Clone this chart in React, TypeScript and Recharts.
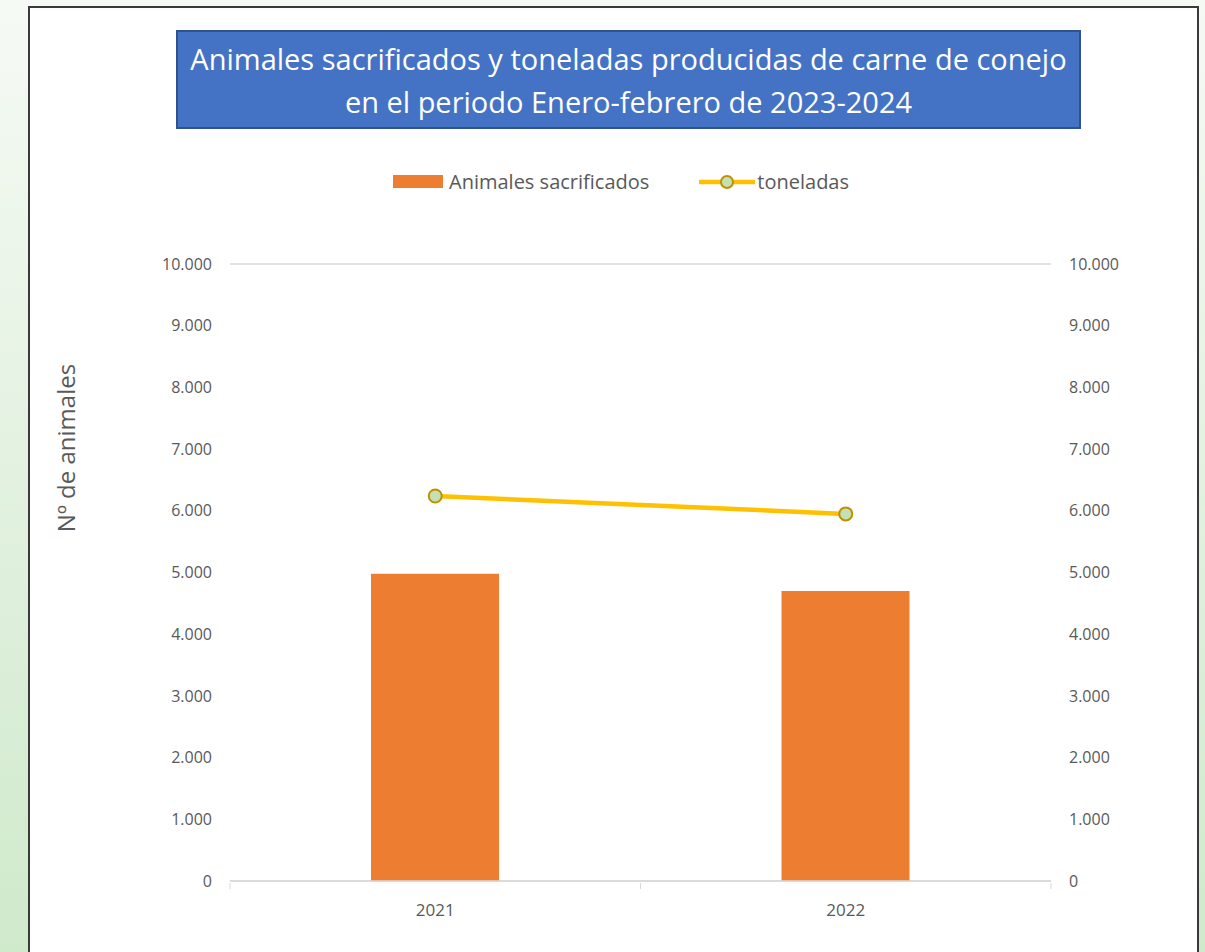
import React from 'react'
import {
  ComposedChart,
  Bar,
  Line,
  XAxis,
  YAxis,
  CartesianGrid,
  Legend,
} from 'recharts'

// values
const years = ['2021', '2022']
const animalesSacrificados = [4980, 4700]
const toneladas = [6240, 5950]
const yTicks = [0, 1000, 2000, 3000, 4000, 5000, 6000, 7000, 8000, 9000, 10000]

const FONT = '"Open Sans", "Liberation Sans", sans-serif'
const TEXT = '#595959'
const GRID = '#d9d9d9'

const chartData = years.map((y, i) => ({
  year: y,
  animales: animalesSacrificados[i],
  toneladas: toneladas[i],
}))

// thousands with a dot, as in the Spanish original
const fmt = (v: number) => String(v).replace(/\B(?=(\d{3})+(?!\d))/g, '.')

const XTick = (props: any) => {
  const { x, y, payload, index, visibleTicksCount } = props
  const half = payload?.offset ?? 0
  return (
    <g>
      <line x1={x - half} x2={x - half} y1={y} y2={y + 6} stroke={GRID} />
      {index === visibleTicksCount - 1 && (
        <line x1={x + half} x2={x + half} y1={y} y2={y + 6} stroke={GRID} />
      )}
      <text x={x} y={y + 21} dy="0.71em" textAnchor="middle" fill={TEXT} fontSize={17} fontFamily={FONT}>
        {payload.value}
      </text>
    </g>
  )
}

const LegendBox = () => (
  <div style={{ display: 'flex', alignItems: 'center', fontFamily: FONT, fontSize: 20, color: TEXT, lineHeight: '24px' }}>
    <svg width={50} height={14} style={{ marginRight: 6 }}>
      <rect x={0} y={0} width={50} height={13} fill="#ED7D31" />
    </svg>
    <span style={{ marginRight: 50 }}>Animales sacrificados</span>
    <svg width={56} height={16} style={{ marginRight: 2 }}>
      <line x1={1} x2={55} y1={8} y2={8} stroke="#FFC000" strokeWidth={4.5} strokeLinecap="round" />
      <circle cx={28} cy={8} r={6} fill="#C5E0B4" stroke="#BF9000" strokeWidth={2} />
    </svg>
    <span>toneladas</span>
  </div>
)

export default function App() {
  return (
    <div
      style={{
        position: 'absolute',
        left: 0,
        top: 0,
        width: 1205,
        height: 952,
        overflow: 'hidden',
        background: 'linear-gradient(to bottom, #f6faf5, #cfe9cb)',
      }}
    >
      {/* white chart panel */}
      <div
        style={{
          position: 'absolute',
          left: 28,
          top: 6,
          width: 1167,
          height: 960,
          background: '#fff',
          border: '2px solid #3a3a3a',
        }}
      />

      {/* title box */}
      <div
        style={{
          position: 'absolute',
          left: 176,
          top: 30,
          width: 901,
          height: 95,
          background: '#4472C4',
          border: '2px solid #2F528F',
          color: '#fff',
          fontFamily: FONT,
          fontSize: 29,
          lineHeight: '43px',
          textAlign: 'center',
          display: 'flex',
          flexDirection: 'column',
          justifyContent: 'center',
        }}
      >
        <div>Animales sacrificados y toneladas producidas de carne de conejo</div>
        <div>en el periodo Enero-febrero de 2023-2024</div>
      </div>

      {/* left axis title */}
      <div
        style={{
          position: 'absolute',
          left: 65,
          top: 448,
          transform: 'translate(-50%, -50%) rotate(-90deg)',
          whiteSpace: 'nowrap',
          fontFamily: FONT,
          fontSize: 24,
          color: TEXT,
        }}
      >
        Nº de animales
      </div>

      <div style={{ position: 'absolute', left: 0, top: 0 }}>
        <ComposedChart
          width={1205}
          height={952}
          data={chartData}
          margin={{ top: 240, right: 94, left: 170, bottom: 31 }}
        >
          <CartesianGrid vertical={false} stroke={GRID} strokeWidth={1.5} />
          <XAxis
            dataKey="year"
            height={40}
            stroke={GRID}
            strokeWidth={1.5}
            tickLine={false}
            tickSize={0}
            tick={<XTick />}
          />
          <YAxis
            yAxisId="left"
            width={60}
            domain={[0, 10000]}
            ticks={yTicks}
            axisLine={false}
            tickLine={false}
            tickSize={0}
            tickMargin={18}
            tickFormatter={fmt}
            tick={{ fill: TEXT, fontSize: 16, fontFamily: FONT }}
          />
          <YAxis
            yAxisId="right"
            orientation="right"
            width={60}
            domain={[0, 10000]}
            ticks={yTicks}
            axisLine={false}
            tickLine={false}
            tickSize={0}
            tickMargin={18}
            tickFormatter={fmt}
            tick={{ fill: TEXT, fontSize: 16, fontFamily: FONT, textAnchor: 'start' }}
          />
          <Legend
            verticalAlign="top"
            align="left"
            wrapperStyle={{ top: 170, left: 393, width: 'auto' }}
            content={<LegendBox />}
          />
          <Bar
            yAxisId="left"
            dataKey="animales"
            name="Animales sacrificados"
            fill="#ED7D31"
            barSize={128}
            isAnimationActive={false}
          />
          <Line
            yAxisId="right"
            dataKey="toneladas"
            name="toneladas"
            stroke="#FFC000"
            strokeWidth={4.5}
            dot={{ r: 6.5, fill: '#C5E0B4', stroke: '#BF9000', strokeWidth: 2 }}
            activeDot={false}
            isAnimationActive={false}
          />
        </ComposedChart>
      </div>
    </div>
  )
}
